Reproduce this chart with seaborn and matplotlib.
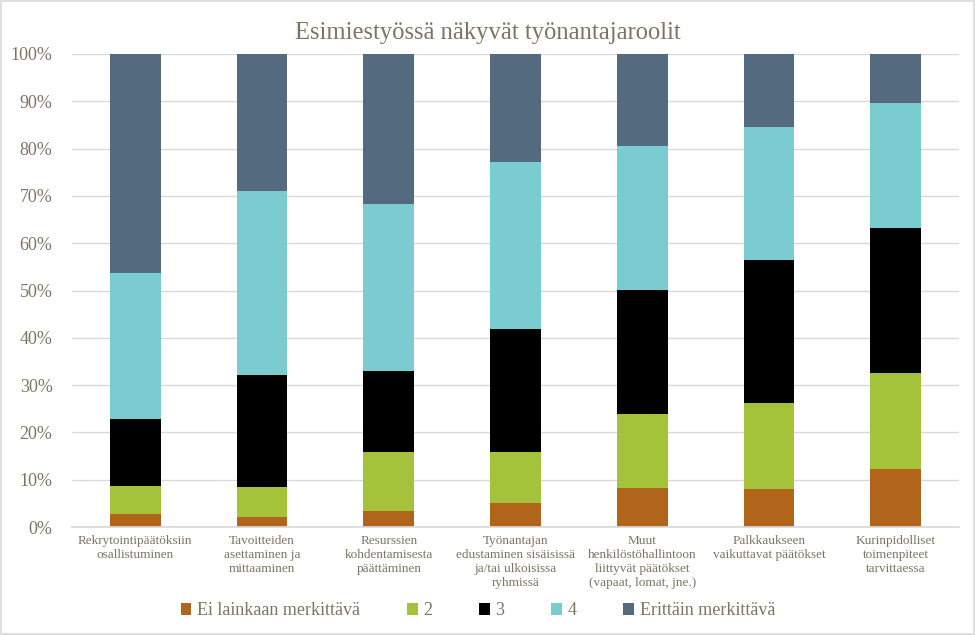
import matplotlib

matplotlib.use("Agg")

import matplotlib.pyplot as plt
import numpy as np
import seaborn as sns
from matplotlib.patches import Rectangle

categories = [
    "Rekrytointipäätöksiin\nosallistuminen",
    "Tavoitteiden\nasettaminen ja\nmittaaminen",
    "Resurssien\nkohdentamisesta\npäättäminen",
    "Työnantajan\nedustaminen sisäisissä\nja/tai ulkoisissa\nryhmissä",
    "Muut\nhenkilöstöhallintoon\nliittyvät päätökset\n(vapaat, lomat, jne.)",
    "Palkkaukseen\nvaikuttavat päätökset",
    "Kurinpidolliset\ntoimenpiteet\ntarvittaessa",
]
series_names = ["Ei lainkaan merkittävä", "2", "3", "4", "Erittäin merkittävä"]
ei_lainkaan = [2.7, 2.2, 3.4, 5.1, 8.3, 8.1, 12.3]
taso_2 = [6.0, 6.3, 12.5, 10.8, 15.6, 18.1, 20.3]
taso_3 = [14.1, 23.6, 17.1, 26.0, 26.2, 30.2, 30.6]
taso_4 = [30.9, 38.9, 35.3, 35.3, 30.4, 28.2, 26.4]
erittain = [46.3, 29.0, 31.7, 22.8, 19.5, 15.4, 10.4]
colors = ["#B0651A", "#A5C33A", "#000000", "#7ACCD0", "#546A7F"]

TEXT = "#7F7464"


def main():
    sns.set_theme(style="white")
    plt.rcParams["font.family"] = ["Liberation Serif", "DejaVu Serif"]

    fig = plt.figure(figsize=(9.75, 6.35), dpi=100)
    ax = fig.add_axes([0.0738, 0.170, 0.910, 0.745])
    fig.patches.append(Rectangle((0.001, 0.001), 0.998, 0.997, transform=fig.transFigure,
                                 fill=False, edgecolor="#D9D9D9", linewidth=1.2))

    bottom = np.zeros(len(categories))
    for name, vals, col in zip(series_names, [ei_lainkaan, taso_2, taso_3, taso_4, erittain], colors):
        sns.barplot(x=categories, y=vals, bottom=bottom, color=col, width=0.4,
                    label=name, saturation=1, linewidth=0, ax=ax)
        bottom = bottom + np.array(vals)

    handles, labels = ax.get_legend_handles_labels()
    if ax.get_legend() is not None:
        ax.get_legend().remove()

    ax.set_xlim(-0.5, 6.5)
    ax.set_ylim(0, 100)
    ax.set_yticks(range(0, 101, 10))
    ax.set_yticklabels([f"{v}%" for v in range(0, 101, 10)], fontsize=13, color=TEXT)
    ax.tick_params(axis="x", labelsize=9.5, labelcolor=TEXT, length=0, pad=6)
    ax.tick_params(axis="y", length=0, pad=14)
    ax.yaxis.grid(True, color="#D9D9D9", linewidth=1)
    ax.set_axisbelow(True)
    for side in ["top", "right", "left"]:
        ax.spines[side].set_visible(False)
    ax.spines["bottom"].set_color("#D9D9D9")
    ax.set_xlabel("")
    ax.set_ylabel("")

    fig.suptitle("Esimiestyössä näkyvät työnantajaroolit", y=0.965, fontsize=17.7, color=TEXT)

    fig.legend(handles, labels, loc="center", bbox_to_anchor=(0.49, 0.038), ncol=5,
               frameon=False, fontsize=13, labelcolor=TEXT, handlelength=0.6,
               handleheight=0.6, handletextpad=0.3, columnspacing=2.6)

    fig.savefig("out.png", dpi=100)
    plt.close(fig)


if __name__ == "__main__":
    main()
